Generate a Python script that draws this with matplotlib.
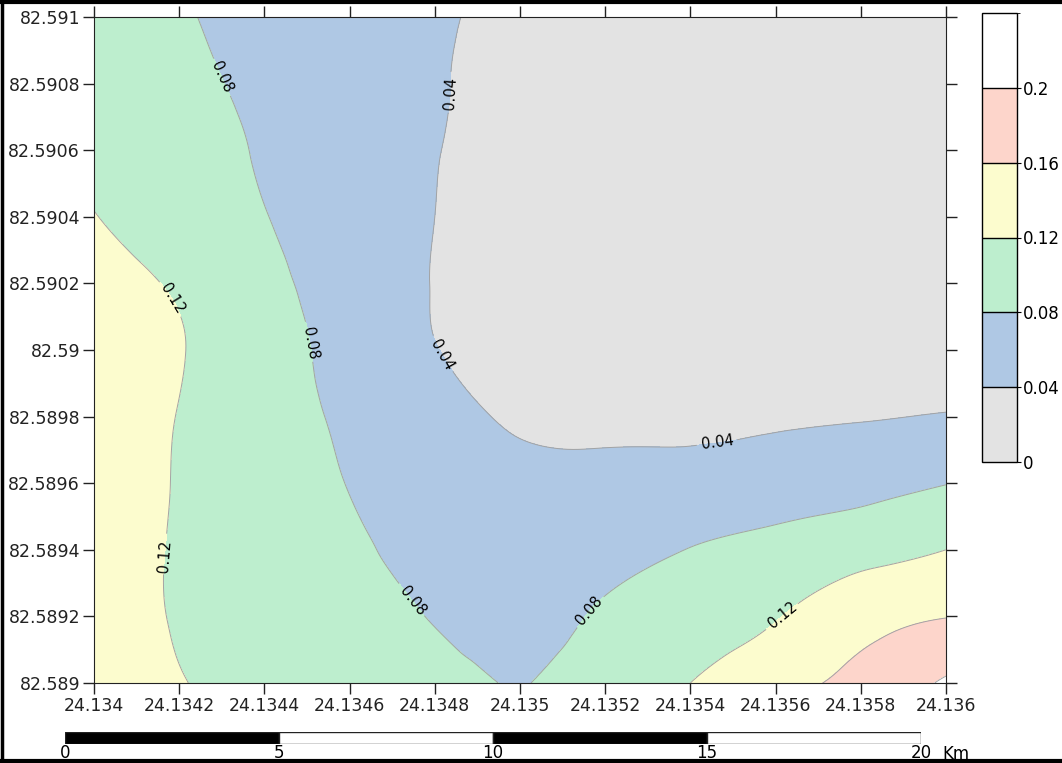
import numpy as np
import matplotlib
matplotlib.use("Agg")
from matplotlib import pyplot as plt
from matplotlib.colors import ListedColormap, BoundaryNorm
from matplotlib.cm import ScalarMappable
from matplotlib.tri import Triangulation, UniformTriRefiner, CubicTriInterpolator
from matplotlib.lines import Line2D

# grid nodes (longitude along x, latitude along y)
lon = [24.134, 24.1342, 24.1344, 24.1346, 24.1348, 24.135,
       24.1352, 24.1354, 24.1356, 24.1358, 24.136]
lat = [82.589, 82.5892, 82.5894, 82.5896, 82.5898, 82.59,
       82.5902, 82.5904, 82.5906, 82.5908, 82.591]

# values, one row per latitude (bottom -> top)
z_rows = [
    [0.128, 0.121, 0.110, 0.100, 0.093, 0.079, 0.101, 0.120, 0.148, 0.170, 0.205],
    [0.132, 0.118, 0.105, 0.092, 0.078, 0.068, 0.085, 0.100, 0.118, 0.145, 0.159],
    [0.135, 0.117, 0.100, 0.085, 0.070, 0.064, 0.068, 0.081, 0.093, 0.106, 0.120],
    [0.140, 0.118, 0.099, 0.079, 0.065, 0.053, 0.050, 0.052, 0.058, 0.067, 0.079],
    [0.141, 0.119, 0.096, 0.074, 0.054, 0.035, 0.033, 0.034, 0.036, 0.038, 0.042],
    [0.145, 0.122, 0.095, 0.067, 0.041, 0.031, 0.028, 0.026, 0.024, 0.023, 0.022],
    [0.135, 0.115, 0.089, 0.063, 0.039, 0.032, 0.028, 0.025, 0.023, 0.022, 0.021],
    [0.121, 0.101, 0.081, 0.061, 0.040, 0.032, 0.028, 0.025, 0.023, 0.022, 0.021],
    [0.112, 0.094, 0.077, 0.059, 0.041, 0.033, 0.028, 0.025, 0.023, 0.022, 0.021],
    [0.103, 0.088, 0.073, 0.057, 0.042, 0.034, 0.029, 0.026, 0.024, 0.022, 0.021],
    [0.096, 0.083, 0.069, 0.056, 0.043, 0.035, 0.030, 0.027, 0.025, 0.023, 0.022],
]

levels = [0, 0.04, 0.08, 0.12, 0.16, 0.2, 0.24]
level_labels = ["0", "0.04", "0.08", "0.12", "0.16", "0.2"]
fill_colors = ["#e3e3e3", "#afc8e4", "#bdeece", "#fcfcce", "#fdd5cb", "#ffffff"]

x_labels = ["24.134", "24.1342", "24.1344", "24.1346", "24.1348", "24.135",
            "24.1352", "24.1354", "24.1356", "24.1358", "24.136"]
y_labels = ["82.589", "82.5892", "82.5894", "82.5896", "82.5898", "82.59",
            "82.5902", "82.5904", "82.5906", "82.5908", "82.591"]

# contour label spots (lon, lat)
label_spots = [(24.13432, 82.59083), (24.13484, 82.59077), (24.13418, 82.59015),
               (24.13450, 82.59002), (24.13481, 82.58998), (24.13546, 82.58975),
               (24.13418, 82.58938), (24.13474, 82.58924), (24.13516, 82.58922),
               (24.13562, 82.58920)]

scale_km = [0, 5, 10, 15]
scale_cols = ["black", "white", "black", "white"]
scale_ticks = [0, 5, 10, 15, 20]

fig = plt.figure(figsize=(10.62, 7.63), dpi=100)
ax = fig.add_axes([94/1062, 1-683/763, 852/1062, 666/763])

cmap = ListedColormap(fill_colors)
norm = BoundaryNorm(levels, cmap.N)

X, Y = np.meshgrid(lon, lat)
Z = np.array(z_rows)
# work on index coordinates so the cubic smoothing is isotropic
I, J = np.meshgrid(np.arange(len(lon)), np.arange(len(lat)))
tri = Triangulation(I.ravel().astype(float), J.ravel().astype(float))
interp = CubicTriInterpolator(tri, Z.ravel(), kind="min_E")
tri_f, z_f = UniformTriRefiner(tri).refine_field(Z.ravel(), triinterpolator=interp, subdiv=4)
tri_f = Triangulation(np.interp(tri_f.x, np.arange(len(lon)), lon),
                      np.interp(tri_f.y, np.arange(len(lat)), lat), tri_f.triangles)

ax.tricontourf(tri_f, z_f, levels=levels, cmap=cmap, norm=norm)
cs = ax.tricontour(tri_f, z_f, levels=levels[1:-1], colors="#a3a3a3", linewidths=0.7)
ax.clabel(cs, manual=label_spots, fmt=lambda v: "%g" % v, fontsize=10.5,
          colors="k", inline=True, inline_spacing=4)

ax.set_xlim(lon[0], lon[-1])
ax.set_ylim(lat[0], lat[-1])
ax.set_xticks(lon)
ax.set_xticklabels(x_labels)
ax.set_yticks(lat)
ax.set_yticklabels(y_labels)
ax.tick_params(direction="out", top=True, right=True, length=8, width=1,
               labelsize=12.5, pad=2, colors="#222222")
for s in ax.spines.values():
    s.set_color("#222222")

# colour key
cax = fig.add_axes([982/1062, 1-462/763, 35/1062, 449/763])
sm = ScalarMappable(norm=norm, cmap=cmap)
cb = fig.colorbar(sm, cax=cax, ticks=levels[:-1], drawedges=True)
cb.ax.set_yticklabels(level_labels)
cb.ax.tick_params(labelsize=12, length=3, pad=1)
cb.outline.set_linewidth(1)
cb.dividers.set_linewidth(1)

# scale bar
sax = fig.add_axes([65/1062, 1-744/763, 856/1062, 12/763])
sax.bar(scale_km, [1]*4, width=5, align="edge", color=scale_cols,
        edgecolor="#222222", linewidth=1)
sax.set_xlim(0, 20)
sax.set_ylim(0, 1)
sax.set_yticks([])
sax.set_xticks(scale_ticks)
sax.set_xticklabels([str(t) for t in scale_ticks])
sax.tick_params(length=0, pad=0, labelsize=12)
for s in sax.spines.values():
    s.set_visible(False)
sax.text(20.5, -0.05, "Km", ha="left", va="top", fontsize=12)

# frame around the picture
fig.add_artist(Line2D([0.002, 0.002], [0, 1], transform=fig.transFigure, color="k", lw=2.5))
fig.add_artist(Line2D([0, 1], [0.997, 0.997], transform=fig.transFigure, color="k", lw=3))
fig.add_artist(Line2D([0, 1], [0.003, 0.003], transform=fig.transFigure, color="k", lw=3))

fig.savefig("out.png", dpi=100)
